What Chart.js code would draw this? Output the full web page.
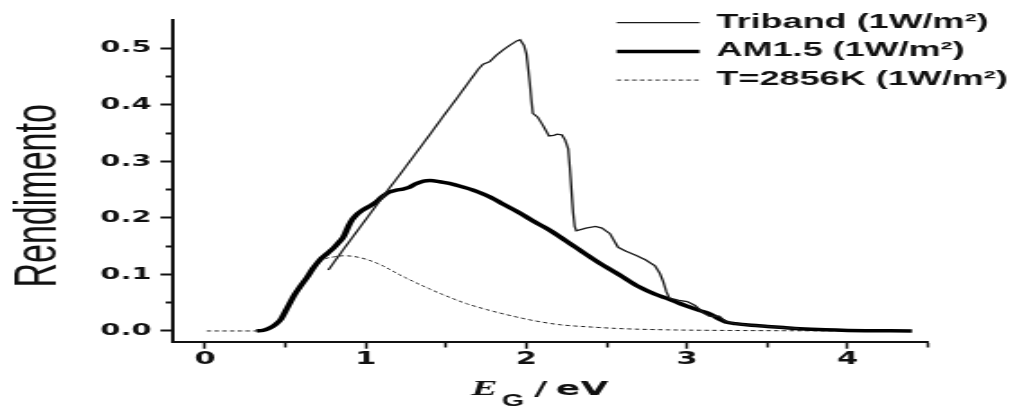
<!DOCTYPE html>
<html lang="pt">
<head>
<meta charset="utf-8">
<title>Rendimento em função de E_G</title>
<script src="https://cdn.jsdelivr.net/npm/chart.js@4.4.1/dist/chart.umd.min.js"></script>
<style>
    html, body { margin: 0; padding: 0; background: #fff; overflow: hidden; }
    /* a figura original está esticada na horizontal, por isso o quadro é escalado */
    #quadro { width: 561px; height: 407px; transform: scaleX(1.8); transform-origin: 0 0; }
</style>
</head>
<body>
<div id="quadro"><canvas id="graficoRendimento"></canvas></div>
<script>
const rotulosSeries = ['Triband (1W/m²)', 'AM1.5 (1W/m²)', 'T=2856K (1W/m²)'];
const tituloEixoY = 'Rendimento';

const energiaTriband = [0.767, 0.85, 0.95, 1.05, 1.14, 1.21, 1.30, 1.40, 1.48, 1.56, 1.64, 1.70, 1.73, 1.77, 1.81,
    1.855, 1.90, 1.94, 1.96, 1.985, 2.00, 2.01, 2.02, 2.03, 2.04, 2.07, 2.10, 2.14, 2.17, 2.19, 2.22, 2.24, 2.26,
    2.27, 2.28, 2.29, 2.30, 2.31, 2.37, 2.43, 2.47, 2.52, 2.57, 2.62, 2.68, 2.74, 2.80, 2.83, 2.85, 2.87, 2.89,
    2.95, 3.00, 3.05, 3.10, 3.14, 3.20, 3.24, 3.30, 3.40, 3.50, 3.60, 3.70];
const rendimentoTriband = [0.108, 0.140, 0.178, 0.216, 0.250, 0.276, 0.310, 0.348, 0.379, 0.409, 0.440, 0.463, 0.472,
    0.476, 0.487, 0.497, 0.506, 0.513, 0.515, 0.505, 0.490, 0.465, 0.440, 0.410, 0.385, 0.378, 0.365, 0.345, 0.346,
    0.348, 0.347, 0.338, 0.322, 0.290, 0.250, 0.210, 0.185, 0.177, 0.182, 0.185, 0.182, 0.172, 0.148, 0.141, 0.134,
    0.126, 0.115, 0.102, 0.088, 0.070, 0.058, 0.054, 0.052, 0.045, 0.032, 0.026, 0.026, 0.017, 0.013, 0.010, 0.008,
    0.006, 0.004];

const energiaAM15 = [0.32, 0.36, 0.40, 0.44, 0.47, 0.51, 0.55, 0.59, 0.63, 0.67, 0.715, 0.76, 0.80, 0.83, 0.86, 0.89,
    0.915, 0.94, 0.975, 1.02, 1.06, 1.10, 1.14, 1.19, 1.23, 1.27, 1.31, 1.36, 1.40, 1.46, 1.52, 1.60, 1.67, 1.74,
    1.80, 1.85, 1.95, 2.05, 2.14, 2.30, 2.455, 2.58, 2.70, 2.80, 2.87, 2.95, 3.02, 3.08, 3.15, 3.20, 3.24, 3.30,
    3.40, 3.50, 3.60, 3.70, 3.86, 4.00, 4.40];
const rendimentoAM15 = [0.000, 0.001, 0.005, 0.012, 0.020, 0.040, 0.061, 0.078, 0.093, 0.110, 0.126, 0.137, 0.147,
    0.156, 0.166, 0.184, 0.197, 0.205, 0.213, 0.220, 0.227, 0.237, 0.245, 0.249, 0.251, 0.254, 0.260, 0.265, 0.266,
    0.264, 0.261, 0.255, 0.249, 0.241, 0.233, 0.225, 0.210, 0.193, 0.179, 0.149, 0.120, 0.099, 0.078, 0.065, 0.058,
    0.049, 0.042, 0.036, 0.029, 0.021, 0.016, 0.013, 0.010, 0.008, 0.006, 0.004, 0.002, 0.001, 0.000];

const energiaCorpoNegro = [0.01, 0.32, 0.36, 0.40, 0.45, 0.50, 0.55, 0.60, 0.65, 0.70, 0.75, 0.80, 0.86, 0.92, 1.00,
    1.10, 1.20, 1.27, 1.40, 1.50, 1.63, 1.75, 1.83, 1.95, 2.05, 2.21, 2.40, 2.60, 2.87, 3.20, 3.70, 4.40];
const rendimentoCorpoNegro = [0.000, 0.000, 0.002, 0.006, 0.015, 0.035, 0.062, 0.083, 0.103, 0.120, 0.128, 0.131,
    0.133, 0.132, 0.127, 0.116, 0.101, 0.091, 0.074, 0.062, 0.048, 0.038, 0.032, 0.024, 0.018, 0.011, 0.007, 0.004,
    0.002, 0.001, 0.0003, 0.000];

const ticksX = [0, 0.5, 1, 1.5, 2, 2.5, 3, 3.5, 4, 4.5];
const ticksY = [0, 0.05, 0.1, 0.15, 0.2, 0.25, 0.3, 0.35, 0.4, 0.45, 0.5];

function montarPontos(xs, ys) {
    return xs.map((x, i) => ({ x: x, y: ys[i] }));
}

function ehMenorX(v) { return !Number.isInteger(v); }
function ehMenorY(v) { return Math.round(v * 100) % 10 !== 0; }

// legenda no canto superior direito + títulos dos eixos (o do x tem subscrito)
const legendaETitulos = {
    id: 'legendaETitulos',
    afterDraw(chart) {
        const ctx = chart.ctx;
        const area = chart.chartArea;
        ctx.save();

        const xLinha = area.right - 173;
        chart.data.datasets.forEach((ds, i) => {
            const y = area.top + 2.7 + i * 28.7;
            ctx.beginPath();
            ctx.lineWidth = ds.borderWidth;
            ctx.strokeStyle = ds.borderColor;
            ctx.setLineDash(ds.borderDash || []);
            ctx.moveTo(xLinha, y);
            ctx.lineTo(xLinha + 46, y);
            ctx.stroke();
            ctx.setLineDash([]);
            ctx.fillStyle = '#111';
            ctx.font = 'bold 20px "Liberation Sans", Arial, sans-serif';
            ctx.textBaseline = 'middle';
            ctx.textAlign = 'left';
            ctx.fillText(ds.label, xLinha + 55.5, y - 0.5);
        });

        // eixo x: E_G / eV
        const base = chart.height - 12;
        const inicio = (area.left + area.right) / 2 - 44;
        ctx.fillStyle = '#111';
        ctx.textBaseline = 'alphabetic';
        ctx.font = 'bold italic 22px "Liberation Serif", "Times New Roman", serif';
        ctx.fillText('E', inicio, base);
        ctx.font = 'bold 16px "Liberation Sans", Arial, sans-serif';
        ctx.fillText('G', inicio + 17, chart.height - 1);
        ctx.font = 'bold 20px "DejaVu Sans", sans-serif';
        ctx.fillText('/', inicio + 35, base);
        ctx.fillText('eV', inicio + 47, base);

        // eixo y
        ctx.translate(30.6, (area.top + area.bottom) / 2 + 15);
        ctx.rotate(-Math.PI / 2);
        ctx.textAlign = 'center';
        ctx.font = '34px "Liberation Sans", Arial, sans-serif';
        ctx.fillText(tituloEixoY, 0, 0);

        ctx.restore();
    }
};

const ctxRendimento = document.getElementById('graficoRendimento');

new Chart(ctxRendimento.getContext('2d'), {
    type: 'line',
    data: {
        datasets: [{
            label: rotulosSeries[0],
            data: montarPontos(energiaTriband, rendimentoTriband),
            borderColor: '#1a1a1a',
            borderWidth: 1.3,
            tension: 0
        }, {
            label: rotulosSeries[1],
            data: montarPontos(energiaAM15, rendimentoAM15),
            borderColor: '#000',
            borderWidth: 3.5,
            cubicInterpolationMode: 'monotone'
        }, {
            label: rotulosSeries[2],
            data: montarPontos(energiaCorpoNegro, rendimentoCorpoNegro),
            borderColor: '#222',
            borderWidth: 1,
            borderDash: [2.5, 1.8],
            cubicInterpolationMode: 'monotone'
        }]
    },
    options: {
        responsive: true,
        maintainAspectRatio: false,
        animation: false,
        elements: {
            point: { radius: 0 }
        },
        layout: {
            padding: { top: 20, right: 45.4, bottom: 0, left: 0 }
        },
        plugins: {
            legend: { display: false },
            tooltip: { enabled: false }
        },
        scales: {
            x: {
                type: 'linear',
                min: -0.2,
                max: 4.5,
                afterBuildTicks: scale => { scale.ticks = ticksX.map(v => ({ value: v })); },
                afterFit: scale => { scale.height = 65.3; },
                border: { display: true, color: '#111', width: 2 },
                grid: {
                    drawOnChartArea: false,
                    tickLength: 7,
                    tickWidth: 1.5,
                    tickColor: '#111',
                    tickBorderDash: ctx => ehMenorX(ctx.tick.value) ? [4.5, 20] : []
                },
                ticks: {
                    autoSkip: false,
                    maxRotation: 0,
                    padding: 1,
                    color: '#111',
                    font: { family: '"DejaVu Sans"', size: 17, weight: 'bold' },
                    callback: v => ehMenorX(v) ? '' : String(v)
                }
            },
            y: {
                type: 'linear',
                min: -0.019,
                max: 0.55,
                afterBuildTicks: scale => { scale.ticks = ticksY.map(v => ({ value: v })); },
                afterFit: scale => { scale.width = 96.1; },
                border: { display: true, color: '#111', width: 2 },
                grid: {
                    drawOnChartArea: false,
                    tickLength: 7,
                    tickWidth: 2,
                    tickColor: '#111',
                    tickBorderDash: ctx => ehMenorY(ctx.tick.value) ? [0, 3, 4, 0] : []
                },
                ticks: {
                    autoSkip: false,
                    padding: 5,
                    color: '#111',
                    font: { family: '"DejaVu Sans"', size: 16, weight: 'bold' },
                    callback: v => ehMenorY(v) ? '' : v.toFixed(1)
                }
            }
        }
    },
    plugins: [legendaETitulos]
});
</script>
</body>
</html>
